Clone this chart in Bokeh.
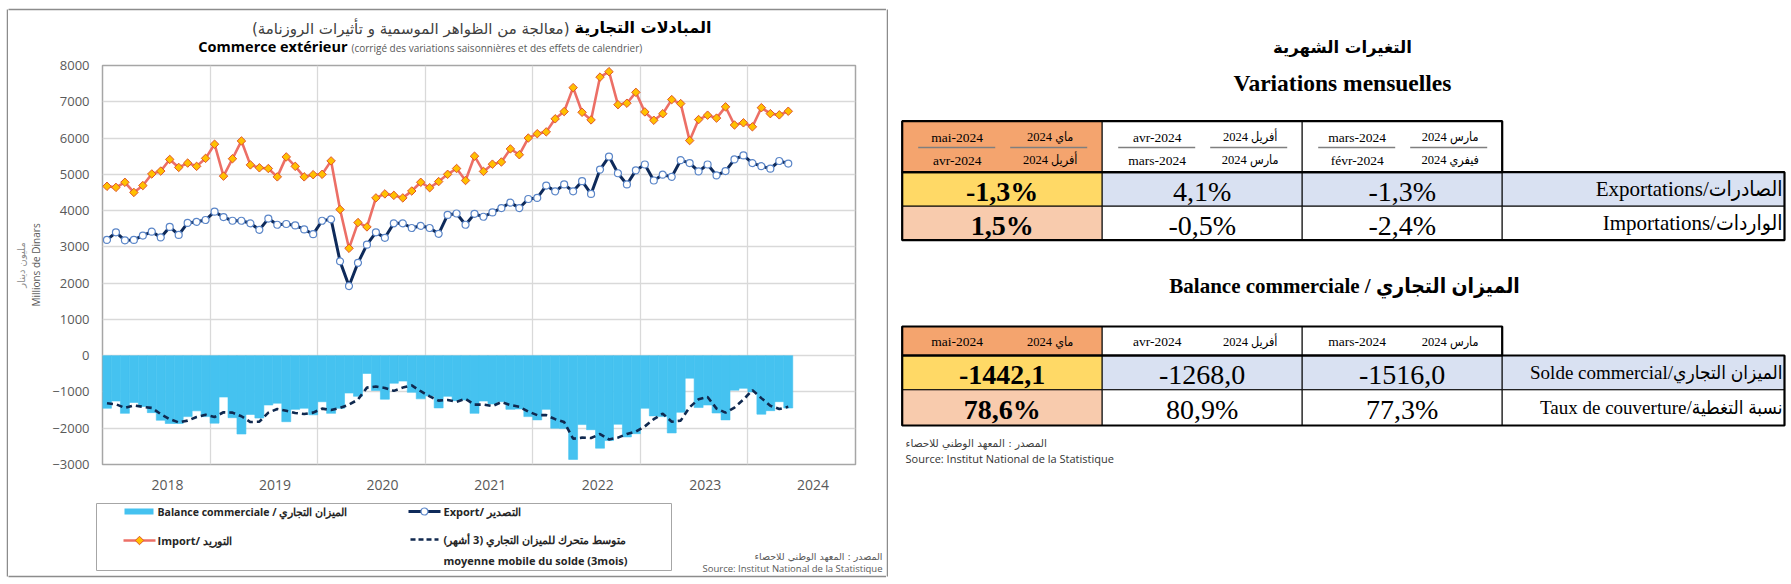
import math
from bokeh.plotting import figure
from bokeh.models import Range1d, FixedTicker, LinearAxis
from bokeh.layouts import row, column
from bokeh.embed import file_html
from bokeh.resources import INLINE
from bokeh.core.properties import value

# ---------------- data (Jan 2018 .. May 2024, millions TND) ----------------
years = ["2018", "2019", "2020", "2021", "2022", "2023", "2024"]

exports = [
    3190, 3400, 3180, 3190, 3310, 3420, 3260, 3550, 3330, 3660, 3690, 3740,
    3970, 3820, 3720, 3720, 3650, 3470, 3780, 3610, 3630, 3590, 3480, 3350,
    3720, 3760, 2600, 1920, 2560, 3060, 3400, 3250, 3650, 3650, 3520, 3580,
    3520, 3360, 3880, 3920, 3610, 3910, 3830, 3950, 4070, 4220, 4070, 4320,
    4350, 4690, 4530, 4720, 4530, 4810, 4460, 5130, 5490, 5030, 4720, 5110,
    5270, 4830, 4990, 4930, 5390, 5310, 5080, 5270, 4970, 5090, 5410, 5520,
    5310, 5224, 5156, 5367, 5297]

imports = [
    4670, 4640, 4780, 4500, 4690, 5010, 5090, 5410, 5190, 5310, 5220, 5440,
    5830, 4950, 5430, 5920, 5260, 5180, 5160, 4930, 5480, 5220, 4930, 4990,
    5000, 5370, 4030, 2960, 3670, 3550, 4350, 4460, 4420, 4350, 4540, 4780,
    4630, 4800, 5000, 5160, 4830, 5500, 5080, 5280, 5340, 5700, 5540, 6000,
    6120, 6170, 6530, 6730, 7390, 6710, 6500, 7680, 7830, 6920, 6960, 7260,
    6720, 6490, 6670, 7060, 6950, 5930, 6510, 6630, 6550, 6860, 6360, 6420,
    6310, 6837, 6673, 6639, 6739]

balance = [
    -1450, -1250, -1590, -1290, -1400, -1570, -1780, -1870, -1870, -1680, -1520, -1680,
    -1860, -1140, -1710, -2160, -1620, -1720, -1360, -1310, -1820, -1480, -1450, -1630,
    -1270, -1590, -1450, -1030, -1120, -490, -960, -1200, -760, -700, -1010, -1190,
    -1110, -1440, -1120, -1240, -1220, -1590, -1250, -1330, -1270, -1480, -1470, -1680,
    -1770, -1480, -2000, -2010, -2860, -1900, -2040, -2550, -2340, -1890, -2240, -2150,
    -1450, -1660, -1680, -2130, -1560, -620, -1430, -1360, -1580, -1770, -950, -900,
    -1000, -1613, -1516, -1268, -1442.1]

moving_avg = [
    -1310, -1340, -1440, -1370, -1410, -1440, -1610, -1750, -1840, -1790, -1690, -1630,
    -1690, -1560, -1570, -1670, -1830, -1820, -1570, -1470, -1520, -1580, -1610, -1570,
    -1460, -1500, -1440, -1350, -1210, -880, -850, -890, -970, -880, -820, -980,
    -1120, -1240, -1220, -1270, -1190, -1350, -1350, -1390, -1280, -1360, -1410, -1540,
    -1640, -1640, -1750, -1830, -2290, -2260, -2270, -2160, -2310, -2260, -2160, -2090,
    -1950, -1750, -1600, -1820, -1790, -1420, -1200, -1140, -1460, -1570, -1430, -1210,
    -950, -1170, -1380, -1470, -1410]

month_pos = list(range(len(exports)))

# ---------------- tables ----------------
t1_num_fr = ["mai-2024", "avr-2024", "mars-2024"]
t1_den_fr = ["avr-2024", "mars-2024", "févr-2024"]
t1_num_ar = ["ماي 2024", "أفريل 2024", "مارس 2024"]
t1_den_ar = ["أفريل 2024", "مارس 2024", "فيفري 2024"]
exp_var = ["-1,3%", "4,1%", "-1,3%"]
imp_var = ["1,5%", "-0,5%", "-2,4%"]
t1_rows = ["Exportations/الصادرات", "Importations/الواردات"]

t2_fr = ["mai-2024", "avr-2024", "mars-2024"]
t2_ar = ["ماي 2024", "أفريل 2024", "مارس 2024"]
solde = ["-1442,1", "-1268,0", "-1516,0"]
couverture = ["78,6%", "80,9%", "77,3%"]
t2_rows = ["Solde commercial/الميزان التجاري", "Taux de couverture/نسبة التغطية"]

legend_labels = ["Balance commerciale / الميزان التجاري", "Import/ التوريد",
                 "Export/ التصدير", "متوسط متحرك للميزان التجاري (3 أشهر)\u200f",
                 "moyenne mobile du solde (3mois)"]

# ---------------- styling ----------------
BAR = "#45C2F0"
EXP = "#0E2A5A"
EXP_MK = "#5B86C8"
IMP = "#EC6F66"
IMP_FILL = "#FFC000"
IMP_EDGE = "#E0552C"
MA = "#10294F"
GRID = "#D9D9D9"
TXT = "#595959"
BORDER = "#8C8C8C"
AR = "DejaVu Sans"
SANS = "Open Sans"
SERIF = "Liberation Serif"
SERIF_AR = "Liberation Serif, DejaVu Sans Condensed, DejaVu Sans"


def no_align(f):
    try:
        f.frame_align = False
    except Exception:
        pass


def canvas(w, h, x0, y0):
    f = figure(width=w, height=h, output_backend="svg", toolbar_location=None, title=None,
               x_range=Range1d(x0, x0 + w), y_range=Range1d(y0 + h, y0),
               x_axis_location=None, y_axis_location=None, min_border=0)
    f.outline_line_color = None
    f.grid.visible = False
    f.background_fill_color = "white"
    f.border_fill_color = "white"
    no_align(f)
    return f


def txt(f, x, y, s, font=SANS, size="12px", align="left", style="normal", color="black"):
    f.text(x=[x], y=[y], text=[s], text_font=value(font), text_font_size=size,
           text_align=align, text_baseline="middle", text_font_style=style, text_color=color)


# ---------------- left panel: title strip ----------------
LW = 878          # left panel width (page x 8 .. 886)
TH, CH, LH = 56, 443, 85

tf = canvas(LW, TH, 8, 0)
tf.segment(x0=[7], y0=[9], x1=[886], y1=[9], line_color=BORDER, line_width=1.5)
txt(tf, 574, 27, "المبادلات التجارية", font=AR, size="16px", style="bold")
txt(tf, 569, 28, "(معالجة من الظواهر الموسمية و تأثيرات الروزنامة)", font=AR, size="15px",
    align="right", color="#404040")
txt(tf, 347, 46, "Commerce extérieur", size="14.5px", align="right", style="bold")
txt(tf, 351, 47.5, "(corrigé des variations saisonnières et des effets de calendrier)",
    size="10px", color=TXT)

# ---------------- chart ----------------
p = figure(width=LW, height=CH, output_backend="svg", toolbar_location=None, title=None,
           x_range=Range1d(-0.5, 83.5), y_range=Range1d(-3000, 8000),
           min_border_left=94, min_border_right=31, min_border_top=9, min_border_bottom=35)
no_align(p)
p.background_fill_color = "white"
p.border_fill_color = "white"
p.outline_line_color = "#A6A6A6"
p.outline_line_width = 1.5

ya = p.yaxis[0]
ya.ticker = FixedTicker(ticks=list(range(-3000, 8001, 1000)))
ya.axis_line_color = None
ya.major_tick_line_color = None
ya.minor_tick_line_color = None
ya.major_tick_out = 0
ya.major_label_standoff = 13
ya.major_label_text_font = SANS
ya.major_label_text_font_size = "13px"
ya.major_label_text_color = TXT
ya.axis_label = "Millions de Dinars"
ya.axis_label_standoff = 6
ya.axis_label_text_font = SANS
ya.axis_label_text_font_size = "10px"
ya.axis_label_text_font_style = "normal"
ya.axis_label_text_color = TXT

ax2 = LinearAxis(ticker=FixedTicker(ticks=[]), axis_label="مليون دينار",
                 axis_line_color=None, major_tick_line_color=None, minor_tick_line_color=None,
                 major_tick_out=0, minor_tick_out=0, major_label_standoff=0,
                 axis_label_standoff=0, axis_label_text_font=AR,
                 axis_label_text_font_size="10px", axis_label_text_font_style="normal",
                 axis_label_text_color="#8C8C8C")
p.add_layout(ax2, "left")

xt = [(int(y) - 2018) * 12 + 6.75 for y in years]
xa = p.xaxis[0]
xa.ticker = FixedTicker(ticks=xt)
xa.major_label_overrides = {t: y for t, y in zip(xt, years)}
xa.axis_line_color = None
xa.major_tick_line_color = None
xa.minor_tick_line_color = None
xa.major_tick_out = 0
xa.major_label_standoff = 15
xa.major_label_text_font = SANS
xa.major_label_text_font_size = "14px"
xa.major_label_text_color = TXT

p.xgrid.ticker = FixedTicker(ticks=[(int(y) - 2018) * 12 - 0.5 for y in years[1:]])
p.xgrid.grid_line_color = GRID
p.xgrid.grid_line_width = 1.3
p.ygrid.grid_line_color = GRID
p.ygrid.grid_line_width = 1.3

p.vbar(x=month_pos, top=0, bottom=balance, width=1.0, fill_color=BAR,
       line_color=BAR, line_width=0.6)
p.line(month_pos, moving_avg, line_color=MA, line_width=2.6, line_dash="6 4")
p.line(month_pos, exports, line_color=EXP, line_width=3)
p.scatter(month_pos, exports, marker="circle", size=7, fill_color="white",
          line_color=EXP_MK, line_width=1.2)
p.line(month_pos, imports, line_color=IMP, line_width=2.6)
p.scatter(month_pos, imports, marker="square", angle=math.pi / 4, size=6,
          fill_color=IMP_FILL, line_color=IMP_EDGE, line_width=1)

# ---------------- legend + source strip ----------------
lf = canvas(LW, LH, 8, TH + CH)
lf.segment(x0=[7], y0=[576], x1=[886], y1=[576], line_color=BORDER, line_width=1.5)
lf.quad(left=[96], right=[671], top=[503], bottom=[570], fill_color=None,
        line_color="#A6A6A6", line_width=1)
# swatches
lf.quad(left=[124], right=[153], top=[508], bottom=[514], fill_color=BAR, line_color=None)
lf.line([123, 155], [540, 540], line_color=IMP, line_width=2.6)
lf.scatter([139], [540], marker="square", angle=math.pi / 4, size=6,
           fill_color=IMP_FILL, line_color=IMP_EDGE, line_width=1)
lf.line([408, 440], [511, 511], line_color=EXP, line_width=3)
lf.scatter([424], [511], marker="circle", size=7, fill_color="white",
           line_color=EXP_MK, line_width=1.2)
lf.line([410, 438], [539, 539], line_color=MA, line_width=2.6, line_dash="5 3")
LEG_C = "#262626"
txt(lf, 157, 511, legend_labels[0], size="10.5px", style="bold", color=LEG_C)
txt(lf, 157, 540, legend_labels[1], size="11px", style="bold", color=LEG_C)
txt(lf, 443, 511, legend_labels[2], size="11px", style="bold", color=LEG_C)
txt(lf, 443, 539, legend_labels[3], size="11px", style="bold", color=LEG_C)
txt(lf, 443, 560, legend_labels[4], size="11px", style="bold", color=LEG_C)
txt(lf, 882, 556, "المصدر : المعهد الوطني للاحصاء", font=AR, size="9.5px", align="right", color=TXT)
txt(lf, 882, 568, "Source: Institut National de la Statistique", size="9.5px", align="right", color=TXT)

# left border strip
sf = canvas(8, 584, 0, 0)
sf.segment(x0=[7], y0=[9], x1=[7], y1=[576], line_color=BORDER, line_width=1.5)

# ---------------- tables figure ----------------
W2 = 904
q = canvas(W2, 584, 886, 0)
q.segment(x0=[886.75], y0=[9], x1=[886.75], y1=[576], line_color=BORDER, line_width=1.5)

CX = [901.7, 1101.7, 1301.7, 1501.7, 1784]
HDR = "#F4A46E"
YEL = "#FFD966"
PEACH = "#F8CBAD"
BLUE = "#D9E1F2"


def draw_table(top, hb, r1b, r2b, row_labels, r1_vals, r2_vals, header_fn, label_size):
    q.quad(left=CX[:3], right=CX[1:4], top=[top] * 3, bottom=[hb] * 3,
           fill_color=[HDR, "white", "white"], line_color="black", line_width=1)
    q.quad(left=CX[:4], right=CX[1:], top=[hb] * 4, bottom=[r1b] * 4,
           fill_color=[YEL, BLUE, BLUE, BLUE], line_color="black", line_width=1)
    q.quad(left=CX[:4], right=CX[1:], top=[r1b] * 4, bottom=[r2b] * 4,
           fill_color=[PEACH, "white", "white", "white"], line_color="black", line_width=1)
    q.quad(left=[CX[0]], right=[CX[3]], top=[top], bottom=[hb], fill_alpha=0,
           line_color="black", line_width=2.2)
    q.quad(left=[CX[0]], right=[CX[4]], top=[hb], bottom=[r2b], fill_alpha=0,
           line_color="black", line_width=2.2)
    header_fn(top, hb)
    mids = [(CX[i] + CX[i + 1]) / 2 for i in range(3)]
    for vals, y0, y1 in ((r1_vals, hb, r1b), (r2_vals, r1b, r2b)):
        ym = (y0 + y1) / 2 + 2
        txt(q, mids[0], ym, vals[0], font=SERIF, size="28px", align="center", style="bold")
        txt(q, mids[1], ym, vals[1], font=SERIF, size="28px", align="center")
        txt(q, mids[2], ym, vals[2], font=SERIF, size="28px", align="center")
    txt(q, CX[4] - 2, (hb + r1b) / 2, row_labels[0], font=SERIF_AR, size=label_size, align="right")
    txt(q, CX[4] - 2, (r1b + r2b) / 2, row_labels[1], font=SERIF_AR, size=label_size, align="right")


def header1(top, hb):
    for i in range(3):
        c = CX[i]
        txt(q, c + 55, 136.5, t1_num_fr[i], font=SERIF, size="13.5px", align="center")
        txt(q, c + 55, 159.5, t1_den_fr[i], font=SERIF, size="13.5px", align="center")
        txt(q, c + 148, 136.5, t1_num_ar[i], font=SERIF_AR, size="12.5px", align="center")
        txt(q, c + 148, 159.5, t1_den_ar[i], font=SERIF_AR, size="12.5px", align="center")
    q.segment(x0=[c + 16 for c in CX[:3]] + [c + 108 for c in CX[:3]], y0=[147] * 6,
              x1=[c + 93 for c in CX[:3]] + [c + 185 for c in CX[:3]], y1=[147] * 6,
              line_color="#7F7F7F", line_width=1.5)


def header2(top, hb):
    ym = (top + hb) / 2 + 0.5
    for i in range(3):
        c = CX[i]
        txt(q, c + 55, ym, t2_fr[i], font=SERIF, size="13.5px", align="center")
        txt(q, c + 148, ym, t2_ar[i], font=SERIF_AR, size="12.5px", align="center")


txt(q, 1342, 47, "التغيرات الشهرية", font=AR, size="16.5px", align="center", style="bold")
txt(q, 1342, 82, "Variations mensuelles", font=SERIF, size="23.5px", align="center", style="bold")
txt(q, 1344, 285, "Balance commerciale / الميزان التجاري", font=SERIF_AR, size="21px",
    align="center", style="bold")

draw_table(120.7, 171.7, 205.7, 239.7, t1_rows, exp_var, imp_var, header1, "21px")
draw_table(326, 355, 389.3, 425, t2_rows, solde, couverture, header2, "19px")

txt(q, 905, 442, "المصدر : المعهد الوطني للاحصاء", font=AR, size="10.5px", color="#404040")
txt(q, 905, 458, "Source: Institut National de la Statistique", size="11px", color="#333333")

left = column(tf, p, lf, spacing=0)
layout = row(sf, left, q, spacing=0)
open("out.html", "w").write(file_html(layout, INLINE))
